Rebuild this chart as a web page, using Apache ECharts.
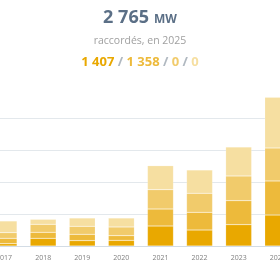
<!DOCTYPE html>
<html><head><meta charset="utf-8">
<script src="https://cdn.jsdelivr.net/npm/echarts@6/dist/echarts.min.js"></script>
<style>html,body{margin:0;padding:0;background:#fff}#c{width:280px;height:280px}</style>
</head><body><div id="c"></div>
<script>
const years = ['2017','2018','2019','2020','2021','2022','2023','2024'];
const s1 = [73, 240, 167, 177, 625, 500, 667, 969];
const s2 = [167, 188, 198, 146, 531, 553, 750, 1063];
const s3 = [177, 250, 250, 271, 604, 594, 771, 1031];
const s4 = [365, 156, 260, 281, 750, 729, 906, 1583];
const totalLabel = '2 765';
const unitLabel = 'MW';
const subLabel = 'raccordés, en 2025';
const partLabels = ['1 407', '1 358', '0', '0'];
const colors = ['#E9A800', '#EDBA3B', '#F1CB6B', '#F6DFA1'];

const chart = echarts.init(document.getElementById('c'), null, {renderer:'canvas'});
const mk = (name, data, i) => ({
  name, type:'bar', stack:'t', data, barWidth:26, clip:false,
  itemStyle:{color:colors[i], borderColor:'rgba(255,255,255,0.35)', borderWidth:0.5},
  emphasis:{disabled:true}, animation:false
});
chart.setOption({
  animation:false,
  title:[
    {text:'{a|'+totalLabel+'} {b|'+unitLabel+'}', left:'center', top:4,
     textStyle:{rich:{
       a:{fontFamily:'Open Sans', fontWeight:'bold', fontSize:18, color:'#5b6f86'},
       b:{fontFamily:'Open Sans', fontWeight:'bold', fontSize:12, color:'#5b6f86', padding:[3,0,0,0]}}}},
    {text:subLabel, left:'center', top:31,
     textStyle:{fontFamily:'Open Sans', fontWeight:'normal', fontSize:10.5, color:'#a0a0a0'}},
    {text:'{c0|'+partLabels[0]+'}{s| / }{c1|'+partLabels[1]+'}{s| / }{c2|'+partLabels[2]+'}{s| / }{c3|'+partLabels[3]+'}',
     left:'center', top:51,
     textStyle:{rich:{
       c0:{fontFamily:'Open Sans', fontWeight:'bold', fontSize:13, color:colors[0]},
       c1:{fontFamily:'Open Sans', fontWeight:'bold', fontSize:13, color:colors[1]},
       c2:{fontFamily:'Open Sans', fontWeight:'bold', fontSize:13, color:colors[2]},
       c3:{fontFamily:'Open Sans', fontWeight:'bold', fontSize:13, color:colors[3]},
       s:{fontFamily:'Open Sans', fontSize:13, color:'#b0b8c0'}}}}
  ],
  grid:{left:-15.5, right:-17.3, top:118, bottom:34, containLabel:false, outerBoundsMode:'none'},
  xAxis:{type:'category', data:years,
    axisLine:{lineStyle:{color:'#d3dce5'}}, axisTick:{show:false},
    axisLabel:{fontFamily:'Open Sans', fontSize:7, color:'#808080', margin:8, hideOverlap:false}},
  yAxis:{type:'value', min:0, max:4000, interval:1000,
    axisLabel:{show:false}, axisLine:{show:false}, axisTick:{show:false},
    splitLine:{lineStyle:{color:'#e3e8ec', width:1}}},
  series:[mk('a',s1,0), mk('b',s2,1), mk('c',s3,2), mk('d',s4,3)]
});
</script></body></html>
